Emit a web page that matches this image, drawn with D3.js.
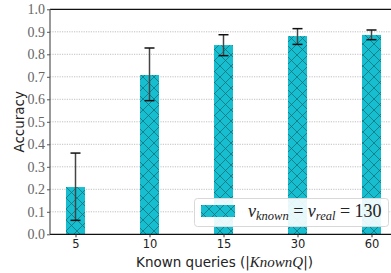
<!DOCTYPE html>
<html>
<head>
<meta charset="utf-8">
<script src="https://cdn.jsdelivr.net/npm/d3@7"></script>
<style>
	body { margin: 0; background: #fff; }
	svg { display: block; }
</style>
</head>
<body>
<svg id="chart" width="391" height="273"></svg>
<script>
// chart data
const categories = ["5", "10", "15", "30", "60"];
const accuracy = [0.21, 0.708, 0.841, 0.881, 0.886];
const errLow = [0.062, 0.594, 0.794, 0.844, 0.865];
const errHigh = [0.361, 0.828, 0.887, 0.914, 0.908];
const yTicks = [0.0, 0.1, 0.2, 0.3, 0.4, 0.5, 0.6, 0.7, 0.8, 0.9, 1.0];

const W = 391, H = 273;
const margin = {top: 9.3, left: 50, bottom: 38.7};
const svg = d3.select("#chart");

const x = d3.scaleLinear().domain([0, categories.length - 1]).range([75.5, 371.5]);
const y = d3.scaleLinear().domain([0, 1]).range([H - margin.bottom, margin.top]);
const barW = 19;

// hatch pattern
const hs = 11;
const defs = svg.append("defs");
const pat = defs.append("pattern")
	.attr("id", "hatch")
	.attr("patternUnits", "userSpaceOnUse")
	.attr("width", hs).attr("height", hs);
pat.append("rect").attr("width", hs).attr("height", hs).attr("fill", "#17becf");
pat.append("path")
	.attr("d", `M0,0L${hs},${hs}M${hs},0L0,${hs}`)
	.attr("stroke", "#0f6a73").attr("stroke-width", 0.7).attr("fill", "none");

// grid
svg.append("g").selectAll("line")
	.data(yTicks.filter(d => d > 0 && d < 1))
	.join("line")
	.attr("x1", margin.left).attr("x2", W)
	.attr("y1", d => y(d)).attr("y2", d => y(d))
	.attr("stroke", "#b0b0b0").attr("stroke-width", 0.8)
	.attr("stroke-dasharray", "1.2,1.2");

// bars
svg.append("g").selectAll("rect")
	.data(accuracy)
	.join("rect")
	.attr("x", (d, i) => x(i) - barW / 2)
	.attr("width", barW)
	.attr("y", d => y(d))
	.attr("height", d => y(0) - y(d))
	.attr("fill", "url(#hatch)");

// error bars
const eb = svg.append("g");
eb.selectAll("line.stem")
	.data(categories)
	.join("line")
	.attr("class", "stem")
	.attr("x1", (d, i) => x(i)).attr("x2", (d, i) => x(i))
	.attr("y1", (d, i) => y(errLow[i])).attr("y2", (d, i) => y(errHigh[i]))
	.attr("stroke", "#444").attr("stroke-width", 1.5);
[errLow, errHigh].forEach(arr => {
	eb.append("g").selectAll("line")
		.data(arr)
		.join("line")
		.attr("x1", (d, i) => x(i) - 5).attr("x2", (d, i) => x(i) + 5)
		.attr("y1", d => y(d)).attr("y2", d => y(d))
		.attr("stroke", "#111").attr("stroke-width", 1.5);
});

// spines
svg.append("line").attr("x1", margin.left).attr("x2", W)
	.attr("y1", y(1)).attr("y2", y(1)).attr("stroke", "#111").attr("stroke-width", 1.2);
svg.append("line").attr("x1", margin.left).attr("x2", W)
	.attr("y1", y(0)).attr("y2", y(0)).attr("stroke", "#111").attr("stroke-width", 1.2);
svg.append("line").attr("x1", margin.left).attr("x2", margin.left)
	.attr("y1", y(0)).attr("y2", y(1)).attr("stroke", "#555").attr("stroke-width", 1.2);

// y axis
const yAxis = svg.append("g")
	.attr("transform", `translate(${margin.left},0)`)
	.call(d3.axisLeft(y).tickValues(yTicks).tickFormat(d3.format(".1f")).tickSize(3).tickPadding(2));
yAxis.select(".domain").remove();
yAxis.selectAll("line").attr("stroke", "#555");
yAxis.selectAll("text")
	.attr("font-family", "'Liberation Serif', serif")
	.attr("font-size", 14)
	.attr("fill", "#666");

// x axis
const xAxis = svg.append("g")
	.attr("transform", `translate(0,${y(0)})`)
	.call(d3.axisBottom(x).tickValues(d3.range(categories.length)).tickFormat(i => categories[i]).tickSize(3).tickPadding(3));
xAxis.select(".domain").remove();
xAxis.selectAll("line").attr("stroke", "#333");
xAxis.selectAll("text")
	.attr("font-family", "'DejaVu Sans', sans-serif")
	.attr("font-size", 11.5)
	.attr("fill", "#222");

// axis labels
svg.append("text")
	.attr("transform", `translate(24,${(y(0) + y(1)) / 2}) rotate(-90)`)
	.attr("text-anchor", "middle")
	.attr("font-family", "'DejaVu Sans', sans-serif")
	.attr("font-size", 13.5)
	.attr("fill", "#222")
	.text("Accuracy");

const xl = svg.append("text")
	.attr("x", 224.5).attr("y", 267)
	.attr("text-anchor", "middle")
	.attr("font-family", "'DejaVu Sans', sans-serif")
	.attr("font-size", 13.5)
	.attr("fill", "#222");
xl.append("tspan").text("Known queries (|");
xl.append("tspan").attr("font-family", "'Liberation Serif', serif").attr("font-style", "italic").attr("font-size", 15).text("KnownQ");
xl.append("tspan").text("|)");

// legend
const lg = svg.append("g");
lg.append("rect")
	.attr("x", 194.5).attr("y", 198.5).attr("width", 194).attr("height", 28)
	.attr("rx", 3).attr("fill", "#fff").attr("fill-opacity", 0.9)
	.attr("stroke", "#d8d8d8");
lg.append("rect")
	.attr("x", 201).attr("y", 205).attr("width", 34).attr("height", 12)
	.attr("fill", "url(#hatch)");
const lt = lg.append("text")
	.attr("x", 248).attr("y", 217)
	.attr("font-family", "'Liberation Serif', serif")
	.attr("font-size", 18)
	.attr("fill", "#222");
lt.append("tspan").attr("font-style", "italic").text("v");
lt.append("tspan").attr("font-style", "italic").attr("font-size", 12.5).attr("dy", 3).text("known");
lt.append("tspan").attr("dy", -3).text(" = ");
lt.append("tspan").attr("font-style", "italic").text("v");
lt.append("tspan").attr("font-style", "italic").attr("font-size", 12.5).attr("dy", 3).text("real");
lt.append("tspan").attr("dy", -3).text(" = 130");
</script>
</body>
</html>
